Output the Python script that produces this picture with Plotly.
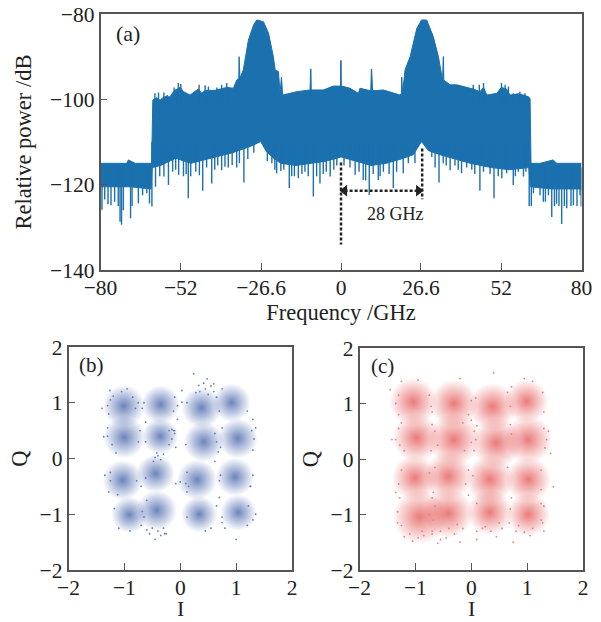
import plotly.graph_objects as go

# Spectrum envelope (GHz, dB): an approximation of the raw trace
upper_f = [-80,-71.3,-70.7,-68.5,-63,-62.6,-61.3,-60.2,-58.9,-56.9,-55.5,-53.5,-52.4,-50.2,-47.5,-46.3,-45.2,-41.9,-38,-35.8,-34.7,-34,-33.9,-33.8,-33.6,-32.5,-30.8,-29.1,-28,-25.8,-24.1,-22.5,-21.9,-20.8,-20.3,-19.8,-19.4,-14.7,-10.3,-10.1,-10,-9.9,-5.9,-2.5,-0.15,-0.1,0.05,0.1,0.3,3,5.8,6.3,9.9,10.1,10.2,10.5,14.1,19.6,20.1,20.2,20.5,21.3,23,25.2,26.8,28.5,30.7,32.4,33.8,34,34.1,34.2,36.3,38.5,41.8,44,46.2,47.4,48.5,51.8,53.4,55.1,56.2,59,60.7,62.3,62.9,63.2,66.2,70.6,71.7,80]
upper_db = [-115,-115,-114.2,-115,-115,-100.2,-99.6,-100.2,-99.4,-99.4,-98,-97.2,-98.2,-99,-97.6,-98.6,-97.9,-97.9,-97.2,-97.4,-95.5,-95,-90,-95,-95,-93.1,-86.1,-82.6,-81.4,-81.8,-84.5,-90,-93.1,-93.5,-98.6,-94.8,-99,-98.2,-97.8,-92.9,-92.9,-97.8,-97.8,-96.9,-96.9,-90.9,-90.9,-96.9,-96.9,-97.4,-98.6,-97.4,-98,-92.9,-92.9,-98,-97.8,-99,-98.6,-94.8,-98.6,-93.1,-90,-83.4,-81.4,-81.4,-85.3,-90,-95.5,-90,-90,-95.5,-96.6,-96.6,-97.2,-97.6,-98.2,-97.2,-99,-98.6,-97.2,-97.6,-99,-98.7,-99,-99.4,-99.8,-115,-115,-114.2,-115,-115]
lower_f = [-80,-70,-63.2,-62.8,-60,-55,-50,-42,-36,-30,-26.7,-25,-23,-20,-15,-10,-5,0,5,10,15,20,24,26.8,29,33,38,43,50,56,62.5,63,70,80]
lower_db = [-120.5,-120.5,-121,-116,-115.5,-113.8,-115,-113.5,-112.5,-111,-109.9,-112,-113.5,-115,-115.5,-115,-114.5,-113.5,-114.5,-115.5,-115,-114,-113,-109.9,-112,-113,-114,-115,-116,-116.5,-116,-120.5,-121,-121]

# Narrow downward spikes along the lower edge (GHz, dB at the tip)
spike_f = [-79.5,-78.6,-77.5,-76.5,-75.3,-74.1,-73.5,-73,-72.4,-70,-69.5,-67.4,-66,-64.6,-63.7,-62.9,-61.7,-60.3,-58.9,-57.4,-56,-55,-54,-52.4,-51.5,-50.8,-50,-48.3,-47.1,-46,-44.7,-43,-42,-41,-39.7,-38.6,-37.5,-36.2,-34.7,-33.8,-32.3,-31,-29,-24.5,-23,-22,-21.4,-20,-19,-17.2,-16.4,-15.5,-14.2,-13,-12,-10.9,-9.2,-8.1,-7,-5.9,-4.9,-3.6,-2.4,-1.4,1,3,4.7,6,7.4,8.2,9.4,10.7,12.4,13,14.1,16,17.4,18.5,20.7,22.4,24.6,30.2,31.3,32.6,34,35,36.3,37.9,39,40.1,41.8,43.5,44.5,46.2,47.4,49.6,50.9,52.3,53.5,55.1,57.3,58,59,60.7,61.5,62.6,63.3,64,66.2,67.3,68,69,70.1,71,71.7,72.5,73.4,74.3,75.1,76.5,77.3,78.5,79.5,79.9]
spike_db = [-125.9,-123.5,-124.6,-124.8,-124,-125,-128.7,-129.4,-126,-127.9,-125,-124.4,-122.5,-122,-124.4,-125.1,-120.5,-118,-118.1,-120.1,-117,-116.5,-117.7,-118,-117.5,-123.2,-118,-117,-117.8,-121.4,-116,-119.7,-116.5,-115.5,-116.6,-115.8,-116,-115.4,-116,-115,-119.5,-114,-112.5,-114.5,-115,-116.5,-117.3,-116.8,-116.5,-120.8,-118,-118,-118.5,-117.5,-117,-118,-122.8,-118,-119.7,-117.5,-117,-118.1,-116.5,-115.5,-115.5,-116,-117.7,-117,-118.9,-119,-122.4,-117.5,-118.9,-118,-117,-117.5,-120.8,-117,-117.3,-115,-115,-113.5,-116,-119.5,-115,-115.5,-116.6,-115.5,-116.5,-117.3,-116,-116.5,-117.5,-121.4,-117,-117.5,-123.2,-118,-118.5,-117.3,-120.1,-118,-117,-118.1,-117,-125,-125,-122,-122.5,-124,-124,-122.5,-127.6,-125,-124.5,-125,-129.2,-125,-125.5,-125,-124.8,-125,-122.5,-125.1]

# Narrow upward teeth along the upper edge (GHz, dB at the tip)
tooth_f = [-61.9,-60.7,-58.9,-57.8,-55.5,-54.9,-54.1,-53.3,-47.2,-45.2,-44.1,-41.3,-39.7,-38,44,46,47.4,53.4,54.6,55.7,57.3,59.5,61.2,62.3]
tooth_db = [-98.6,-98.4,-98.4,-99,-97.2,-97.7,-96.2,-96.4,-96.6,-96.7,-97,-97.2,-96.6,-96.2,-96.6,-96.6,-96.2,-96.2,-96.6,-97,-98.6,-98.2,-98.6,-99.4]

freq_ticks = [-80,-53.3,-26.6,0,26.6,53.3,80]
freq_labels = ["−80","−52","−26.6","0","26.6","52","80"]

marker_x = [0,0]
marker_y = [-114.8,-134]
marker2_x = [27,27]
marker2_y = [-111.5,-123.4]
span_x = [1.2,25.8]
span_y = [-121.4,-121.4]

# Constellation clusters: centre I, centre Q, spread.
# Individual dots cannot be read, so each cluster's density is drawn as a soft blob.
b_i = [-1.01,-0.35,0.38,0.92,-1.0,-0.36,0.42,1.03,-1.03,-0.44,0.30,0.98,-0.91,-0.42,0.34,1.04]
b_q = [0.94,0.97,0.91,1.0,0.38,0.40,0.30,0.36,-0.39,-0.27,-0.38,-0.33,-1.01,-0.93,-1.0,-0.97]
b_spread = [.21,.19,.2,.19,.21,.18,.2,.2,.2,.19,.2,.19,.18,.2,.18,.18]
c_i = [-1.04,-0.31,0.38,0.99,-0.98,-0.31,0.45,1.02,-1.01,-0.41,0.33,1.02,-0.92,-0.41,0.33,1.02]
c_q = [1.03,1.0,0.94,1.04,0.38,0.35,0.29,0.35,-0.34,-0.31,-0.37,-0.37,-1.04,-0.98,-0.96,-1.0]
c_spread = [.22,.22,.22,.2,.22,.24,.23,.22,.21,.22,.22,.21,.25,.23,.21,.2]

# Outlying dots estimated by eye from the reference
b_out_i = [0.48,0.24,0.33,0.6,0.03,0.03,-1.4,-1.37,-1.26,-1.3,-0.1,-0.62,-0.62,-0.08,0.62,0.75,1.32,1.35,1.25,-0.05,0.0,-0.25,-1.25,-1.35,-0.45,-0.28,-0.7,-0.6,-0.3,-0.9,-1.1,1.35,1.0,0.45,-0.08,0.12,0.7,-0.05,
           0.35,0.45,0.5,0.6,0.55,0.42,0.28,0.65,-0.45,-0.4,-0.35,-0.48,-0.42,-0.5,-0.4,-0.3,-0.35,-0.55,-0.6,-0.2,-0.15,-0.12,-1.3,-1.28,-1.25,-1.2,-0.85,-0.8,-0.75,-1.05,-0.95,
           -1.22,-1.3,-1.15,-0.75,-0.72,-1.28,-1.25,-0.78,-0.7,-1.12,-1.18,-0.68,-0.65,-0.62,-0.15,-0.1,-0.2,-0.65,-0.1,-0.68,-0.12,0.12,0.15,0.68,0.7,0.65,0.1,0.12,0.62,0.72,0.1,0.55,0.12,0.65,0.75,1.28,1.3,1.2,1.3,0.75,0.72,1.3,1.26,0.7,1.22,0.8,1.2,0.75,1.3]
b_out_q = [1.43,1.52,1.31,1.34,1.22,1.01,0.9,0.39,1.22,0.55,0.5,0.65,-0.35,-0.45,-0.05,1.25,0.35,-1.0,-0.5,0.95,-0.42,-1.35,-0.4,-0.3,-1.45,-1.35,-1.2,-0.75,0.08,-1.3,-1.25,0.55,-1.45,-1.3,0.2,-0.6,-0.7,0.7,
           1.2,1.25,1.15,1.2,1.3,1.35,1.18,1.1,0.02,0.05,-0.02,-0.05,0.1,-1.25,-1.3,-1.25,-1.38,-1.35,-1.28,0.5,0.52,0.5,0.95,0.8,1.05,1.12,1.1,0.9,1.0,1.2,1.25,
           0.25,0.4,0.1,0.3,0.5,-0.6,-0.25,-0.4,-0.5,-0.65,-0.9,-0.95,-1.05,0.3,0.35,0.45,0.25,1.0,1.1,0.9,0.85,-0.25,-0.5,0.12,0.85,0.3,0.25,1.0,0.45,-0.3,-0.45,-1.25,-1.05,-0.85,-1.15,0.5,0.15,0.85,0.7,0.55,0.2,-0.3,-0.5,-0.4,-0.85,-1.25,-1.2,-1.05,-1.1]
c_out_i = [-1.35,-1.3,-1.25,-1.45,-0.95,-0.2,0.4,0.95,1.1,1.38,1.42,1.47,1.25,0.05,0.03,-0.05,-0.7,-0.65,-1.35,-1.2,-0.6,-0.2,0.1,0.45,0.75,1.3,0.0,-0.15,0.7,-0.7,0.72,1.3,-1.32,-1.42,
           -1.3,-1.25,-1.35,-1.2,-0.75,-0.72,-0.7,-0.65,-0.6,-0.05,0.0,0.08,0.1,0.65,0.7,0.72,0.65,-1.28,-1.3,-1.25,-1.3,-1.28,-1.32,-0.72,-0.75,-0.68,-0.12,-0.1,0.05,0.1,-0.65,-0.68,-0.7,-0.05,0.0,0.08,-1.25,-1.1,-0.95,-0.85,-0.7,-0.55,-0.45,-0.3,-0.15,0.1,0.2,0.35,0.55,0.8,0.95,1.1,1.25,1.3,1.28,1.32,1.25,1.35,0.72,0.7,0.68,-0.75,-1.05,-0.88,-0.55,-0.4,-0.25,0.25,0.5,0.85,1.05,1.28,1.3,1.25]
c_out_q = [1.0,0.8,1.4,1.25,1.42,1.45,1.55,1.45,1.4,0.5,0.1,-0.5,-1.1,0.5,-0.3,-0.65,0.62,-0.15,-0.6,-1.4,-1.52,-1.5,-1.45,-1.4,-1.5,-1.3,1.05,0.65,0.62,-0.7,-0.7,-0.85,-1.15,0.35,
           1.15,0.65,0.35,0.15,1.15,0.95,0.85,0.5,0.25,0.8,0.3,1.1,0.6,1.2,0.95,0.45,-0.15,0.25,0.55,-0.2,-0.45,-0.7,-0.95,0.15,-0.25,-0.6,0.15,-0.45,0.15,-0.8,-0.85,-1.1,-1.3,-0.2,0.7,0.35,-1.2,-1.35,-1.42,-1.38,-1.35,-1.3,-1.42,-1.35,-1.25,-1.3,-1.25,-1.3,-1.25,-1.3,-1.32,-1.25,-0.8,0.85,1.2,0.2,-0.2,0.35,1.3,-0.9,-1.15,-1.0,-1.48,-1.3,-1.45,-1.25,-1.18,-1.22,-1.15,-1.2,-1.38,-1.15,0.55,-0.55]

BLUE = "#1b70ae"
INK = "#222222"
FRAME = "#555555"
FONT = "Liberation Serif"
PX_PER_UNIT = 55.9

fig = go.Figure()
fig.add_trace(go.Scatter(x=lower_f, y=lower_db, mode="lines", line=dict(color=BLUE, width=1), xaxis="x", yaxis="y", showlegend=False))
fig.add_trace(go.Scatter(x=upper_f, y=upper_db, mode="lines", line=dict(color=BLUE, width=1), fill="tonexty", fillcolor=BLUE, xaxis="x", yaxis="y", showlegend=False))
sx, sy = [], []
for f, d in zip(spike_f, spike_db):
    sx += [f, f, None]
    sy += [-116 if abs(f) > 62.9 else -110, d, None]
for f, d in zip(tooth_f, tooth_db):
    sx += [f, f, None]
    sy += [-101, d, None]
fig.add_trace(go.Scatter(x=sx, y=sy, mode="lines", line=dict(color=BLUE, width=1.4), xaxis="x", yaxis="y", showlegend=False))
for xs, ys in [(marker_x, marker_y), (marker2_x, marker2_y), (span_x, span_y)]:
    fig.add_trace(go.Scatter(x=xs, y=ys, mode="lines", line=dict(color=INK, width=2.5, dash="3px,2px"), xaxis="x", yaxis="y", showlegend=False))
fig.add_trace(go.Scatter(x=[span_x[0],span_x[1]], y=span_y, mode="markers", marker=dict(symbol=["triangle-left","triangle-right"], size=10, color=INK, line=dict(width=0)), xaxis="x", yaxis="y", showlegend=False))

def cloud(i_vals, q_vals, spreads, out_i, out_q, rgb, dot, ax_x, ax_y, k, alpha):
    fig.add_trace(go.Scatter(x=i_vals, y=q_vals, mode="markers", xaxis=ax_x, yaxis=ax_y, showlegend=False,
        marker=dict(color=f"rgba({rgb},0)", size=[s*k*PX_PER_UNIT for s in spreads], line=dict(width=0),
                    gradient=dict(type="radial", color=f"rgba({rgb},{alpha})"))))
    fig.add_trace(go.Scatter(x=out_i, y=out_q, mode="markers", xaxis=ax_x, yaxis=ax_y, showlegend=False,
        marker=dict(color=dot, size=1.8, line=dict(width=0))))

cloud(b_i, b_q, b_spread, b_out_i, b_out_q, "35,70,155", "#5f7fbe", "x2", "y2", 3.6, 0.95)
cloud(c_i, c_q, c_spread, c_out_i, c_out_q, "222,40,40", "#e88080", "x3", "y3", 3.9, 0.88)

W, H = 601, 622
common = dict(automargin=False, showline=True, linecolor=FRAME, linewidth=1.5, mirror=True, ticks="inside", tickcolor=FRAME, ticklen=7, tickwidth=1,
              showgrid=False, zeroline=False, tickfont=dict(family=FONT, size=21.5, color=INK))
tf = dict(family=FONT, size=22.5, color=INK)
def dom(a, b):
    return [a/W, b/W]
def ydom(top, bot):
    return [1-bot/H, 1-top/H]

fig.update_layout(
    width=W, height=H, margin=dict(l=0,r=0,t=0,b=0), paper_bgcolor="white", plot_bgcolor="white", showlegend=False,
    font=dict(family=FONT, color=INK),
    xaxis=dict(domain=dom(100.5,581.5), range=[-80,80], tickvals=freq_ticks, ticktext=freq_labels, ticklabelstandoff=-3, title=dict(text="Frequency /GHz", font=tf, standoff=0), anchor="y", **common),
    yaxis=dict(domain=ydom(14,270), range=[-140,-80], tickvals=[-140,-120,-100,-80], title=dict(text="Relative power /dB", font=tf, standoff=12), anchor="x", **common),
    xaxis2=dict(domain=dom(68.5,292), range=[-2,2], tickvals=[-2,-1,0,1,2], ticklabelstandoff=-3, anchor="y2", **common),
    yaxis2=dict(domain=ydom(347,570), range=[-2,2], tickvals=[-2,-1,0,1,2], title=dict(text="Q", font=tf, standoff=6), anchor="x2", **common),
    xaxis3=dict(domain=dom(359.5,583), range=[-2,2], tickvals=[-2,-1,0,1,2], ticklabelstandoff=-3, anchor="y3", **common),
    yaxis3=dict(domain=ydom(348,570), range=[-2,2], tickvals=[-2,-1,0,1,2], title=dict(text="Q", font=tf, standoff=6), anchor="x3", **common),
    annotations=[
        dict(text="(a)", x=-71, y=-84.5, xref="x", yref="y", showarrow=False, font=dict(family=FONT, size=22, color=INK)),
        dict(text="28 GHz", x=18.2, y=-126.9, xref="x", yref="y", showarrow=False, font=dict(family=FONT, size=18, color=INK)),
        dict(text="(b)", x=-1.58, y=1.67, xref="x2", yref="y2", showarrow=False, font=dict(family=FONT, size=21, color=INK)),
        dict(text="(c)", x=-1.58, y=1.67, xref="x3", yref="y3", showarrow=False, font=dict(family=FONT, size=21, color=INK)),
        dict(text="I", x=180.2/W, y=1-608/H, xref="paper", yref="paper", xanchor="center", yanchor="middle", showarrow=False, font=dict(family=FONT, size=22, color=INK)),
        dict(text="I", x=471.2/W, y=1-608/H, xref="paper", yref="paper", xanchor="center", yanchor="middle", showarrow=False, font=dict(family=FONT, size=22, color=INK)),
    ],
)
fig.write_html("out.html", post_script="document.body.style.margin='0';", config={"displayModeBar": False})
